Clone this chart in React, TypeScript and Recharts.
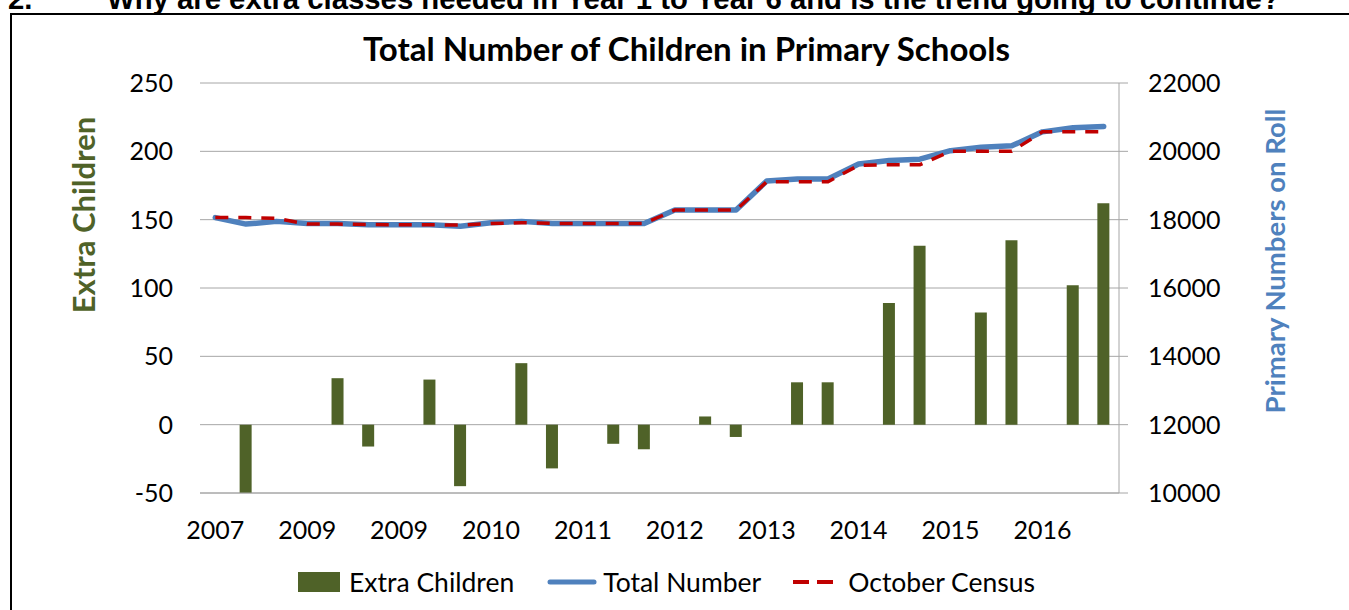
import {
  ComposedChart,
  Bar,
  Line,
  XAxis,
  YAxis,
  CartesianGrid,
  Legend,
} from 'recharts'

// year labels shown under every third period
const yearLabels = ['2007', '2009', '2009', '2010', '2011', '2012', '2013', '2014', '2015', '2016']

const extraChildren = [
  null, -50, null, null, 34, -16, null, 33, -45, null,
  45, -32, null, -14, -18, null, 6, -9, null, 31,
  31, null, 89, 131, null, 82, 135, null, 102, 162,
]

const totalNumber = [
  18060, 17870, 17950, 17890, 17890, 17850, 17850, 17850, 17810, 17910,
  17950, 17890, 17890, 17890, 17890, 18280, 18280, 18280, 19130, 19190,
  19190, 19630, 19730, 19770, 20020, 20120, 20160, 20570, 20690, 20730,
]

const octoberCensus = [
  18060, 18060, 18040, 17870, 17870, 17860, 17850, 17850, 17840, 17890,
  17910, 17890, 17890, 17890, 17890, 18280, 18280, 18280, 19110, 19110,
  19110, 19590, 19610, 19610, 20000, 20000, 20000, 20570, 20570, 20570,
]

const leftTicks = [-50, 0, 50, 100, 150, 200, 250]
const rightTicks = [10000, 12000, 14000, 16000, 18000, 20000, 22000]
const rightMinorTicks = [
  10000, 10400, 10800, 11200, 11600, 12000, 12400, 12800, 13200, 13600,
  14000, 14400, 14800, 15200, 15600, 16000, 16400, 16800, 17200, 17600,
  18000, 18400, 18800, 19200, 19600, 20000, 20400, 20800, 21200, 21600, 22000,
]
const boundaryTicks = [
  0, 1, 2, 3, 4, 5, 6, 7, 8, 9, 10, 11, 12, 13, 14, 15,
  16, 17, 18, 19, 20, 21, 22, 23, 24, 25, 26, 27, 28, 29, 30,
]

const data = totalNumber.map((t, i) => ({
  label: i % 3 === 0 ? yearLabels[i / 3] : '',
  extra: extraChildren[i],
  total: t,
  census: octoberCensus[i],
}))

const GREEN = '#4F6228'
const BLUE = '#4F81BD'
const RED = '#C00000'
const GRID = '#A6A6A6'
const FONT = 'Lato, sans-serif'

const tickStyle = { fontSize: 25, fill: '#000', fontFamily: FONT }

function LeftTitle(props: any) {
  const vb = props.viewBox
  const x = vb.x - 57
  const y = vb.y + 132
  return (
    <text x={x} y={y} transform={`rotate(-90 ${x} ${y})`} textAnchor="middle"
      dominantBaseline="central" fill={GREEN} fontFamily={FONT} fontWeight={700} fontSize={31}>
      Extra Children
    </text>
  )
}

function RightTitle(props: any) {
  const vb = props.viewBox
  const x = vb.x + 155
  const y = vb.y + 178
  return (
    <text x={x} y={y} transform={`rotate(-90 ${x} ${y})`} textAnchor="middle"
      dominantBaseline="central" fill={BLUE} fontFamily={FONT} fontWeight={700} fontSize={27.5}>
      Primary Numbers on Roll
    </text>
  )
}

function LegendContent() {
  return (
    <div style={{ display: 'flex', alignItems: 'center', height: 40, paddingLeft: 298,
      fontFamily: FONT, fontSize: 26.5, color: '#000', whiteSpace: 'nowrap' }}>
      <span style={{ display: 'inline-block', width: 42, height: 20, background: GREEN }} />
      <span style={{ marginLeft: 9 }}>Extra Children</span>
      <svg width={50} height={10} style={{ marginLeft: 33 }}>
        <line x1={3} y1={5} x2={47} y2={5} stroke={BLUE} strokeWidth={5} strokeLinecap="round" />
      </svg>
      <span style={{ marginLeft: 6 }}>Total Number</span>
      <svg width={41} height={8} style={{ marginLeft: 32 }}>
        <line x1={0} y1={4} x2={41} y2={4} stroke={RED} strokeWidth={4} strokeDasharray="16 8" />
      </svg>
      <span style={{ marginLeft: 14 }}>October Census</span>
    </div>
  )
}

export default function App() {
  return (
    <div style={{ position: 'absolute', left: 0, top: 0, width: 1349, height: 610, overflow: 'hidden', background: '#fff' }}>
      <div style={{ position: 'absolute', left: 8, top: -16, fontFamily: '"Liberation Sans", Arial, sans-serif',
        fontWeight: 700, fontSize: 29.3, lineHeight: 1, whiteSpace: 'nowrap' }}>2.</div>
      <div style={{ position: 'absolute', left: 107, top: -16, fontFamily: '"Liberation Sans", Arial, sans-serif',
        fontWeight: 700, fontSize: 29.3, lineHeight: 1, whiteSpace: 'nowrap' }}>
        Why are extra classes needed in Year 1 to Year 6 and is the trend going to continue?
      </div>
      <div style={{ position: 'absolute', left: 10, top: 13, width: 1400, height: 700,
        border: '2px solid #000', boxSizing: 'border-box' }} />
      <div style={{ position: 'absolute', left: 363, top: 32, fontFamily: FONT, fontWeight: 700,
        fontSize: 33, lineHeight: 1, whiteSpace: 'nowrap' }}>
        Total Number of Children in Primary Schools
      </div>
      <div style={{ position: 'absolute', left: 0, top: 0 }}>
        <ComposedChart width={1349} height={610} data={data}
          margin={{ top: 83, right: 130, bottom: 8, left: 140 }}>
          <CartesianGrid vertical={false} stroke={GRID} xAxisId="cat" yAxisId="left" />
          <XAxis xAxisId="grid" type="number" domain={[0, 30]} ticks={boundaryTicks}
            allowDataOverflow tick={false} axisLine={false} tickLine={{ stroke: GRID }}
            tickSize={9} height={0} />
          <XAxis xAxisId="cat" dataKey="label" interval={2} axisLine={{ stroke: GRID }}
            tickLine={false} tickSize={6} tickMargin={22} height={69} tick={tickStyle} />
          <YAxis yAxisId="left" domain={[-50, 250]} ticks={leftTicks} width={60}
            axisLine={false} tickLine={false} tickSize={6} tickMargin={21} tick={tickStyle}
            label={{ content: <LeftTitle /> }} />
          <YAxis yAxisId="minor" orientation="right" domain={[10000, 22000]} ticks={rightMinorTicks}
            width={0} axisLine={false} tickLine={{ stroke: GRID }} tickSize={6} tick={false} />
          <YAxis yAxisId="right" orientation="right" domain={[10000, 22000]} ticks={rightTicks}
            width={100} axisLine={{ stroke: GRID }} tickLine={{ stroke: GRID }} tickSize={9}
            tickMargin={20} tick={tickStyle} label={{ content: <RightTitle /> }} />
          <Legend verticalAlign="bottom" content={<LegendContent />}
            wrapperStyle={{ left: 0, width: 1349, bottom: 8 }} />
          <Bar xAxisId="cat" yAxisId="left" dataKey="extra" name="Extra Children" fill={GREEN}
            barSize={12} isAnimationActive={false} />
          <Line xAxisId="cat" yAxisId="right" dataKey="total" name="Total Number" stroke={BLUE}
            strokeWidth={5.5} dot={false} strokeLinejoin="round" strokeLinecap="round" isAnimationActive={false} />
          <Line xAxisId="cat" yAxisId="right" dataKey="census" name="October Census" stroke={RED}
            strokeWidth={3.5} strokeDasharray="13 10" dot={false} isAnimationActive={false} />
        </ComposedChart>
      </div>
    </div>
  )
}
